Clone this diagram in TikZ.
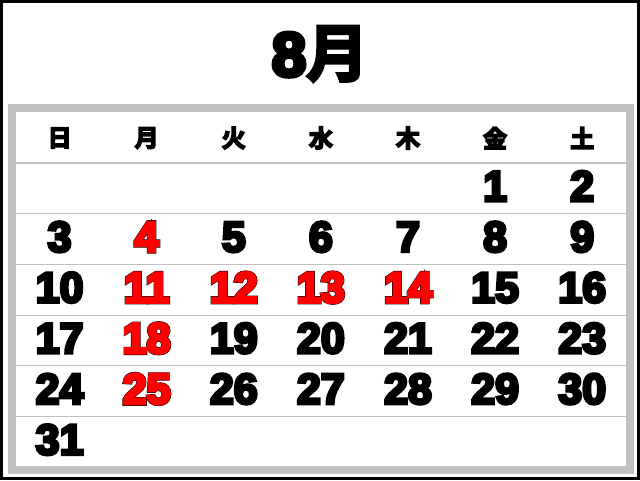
\documentclass[tikz,border=0pt]{standalone}
\usepackage{fontspec}
\setmainfont{Liberation Sans}
\newfontfamily\jpfont{Noto Sans CJK JP Bold}[FakeBold=5]
\newfontfamily\headfont{Noto Sans CJK JP Bold}[FakeBold=6.5]
\newfontfamily\numfont{Liberation Sans Bold}[FakeBold=7]
\newfontfamily\edgefont{Liberation Sans Bold}[FakeBold=9]
\definecolor{framegray}{RGB}{192,192,192}
\definecolor{holred}{RGB}{255,0,0}
\tikzset{
  weekday/.style={font=\headfont\fontsize{24}{24}\selectfont, inner sep=0pt},
  day/.style={font=\numfont\fontsize{43}{43}\selectfont, anchor=base, inner sep=0pt},
  dayedge/.style={day, font=\edgefont\fontsize{43}{43}\selectfont},
  holiday/.style={text=holred},
  day 4/.style={holiday}, day 11/.style={holiday}, day 12/.style={holiday},
  day 13/.style={holiday}, day 14/.style={holiday}, day 18/.style={holiday},
  day 25/.style={holiday}
}

\begin{document}
\begin{tikzpicture}[x=1pt,y=-1pt]
   \useasboundingbox (0,0) rectangle (640,480);
   \fill[white] (0,0) rectangle (640,480);
   \draw[line width=3pt] (1.5,1.5) rectangle (638.5,478.5);
   % month title
   \node[font=\jpfont\fontsize{62}{62}\selectfont, anchor=base, inner sep=0pt]
        (title) at (320,76) {{\numfont 8}月};
   % frame and row lines
   \draw[framegray, line width=8pt] (12,108) rectangle (630,470);
   \foreach \k in {0,...,5}
      \draw[framegray, line width=1.2pt] (16,{163+50.7*\k}) -- (626,{163+50.7*\k});
   % weekday heads
   \foreach \w [count=\i from 0] in {日,月,火,水,木,金,土}
      \node[weekday] (w\i) at ({59.6+87.1*\i},138) {\w};
   % black edge under the red days
   \foreach \d in {4,11,12,13,14,18,25} {
      \pgfmathtruncatemacro\idx{\d+4}
      \pgfmathtruncatemacro\col{mod(\idx,7)}
      \pgfmathtruncatemacro\row{div(\idx,7)}
      \node[dayedge] (e\d) at ({59.6+87.1*\col},{201+50.7*\row}) {\d};
   }
   % days
   \foreach \d in {1,...,31} {
      \pgfmathtruncatemacro\idx{\d+4}
      \pgfmathtruncatemacro\col{mod(\idx,7)}
      \pgfmathtruncatemacro\row{div(\idx,7)}
      \node[day, day \d/.try] (d\d) at ({59.6+87.1*\col},{201+50.7*\row}) {\d};
   }
\end{tikzpicture}
\end{document}
